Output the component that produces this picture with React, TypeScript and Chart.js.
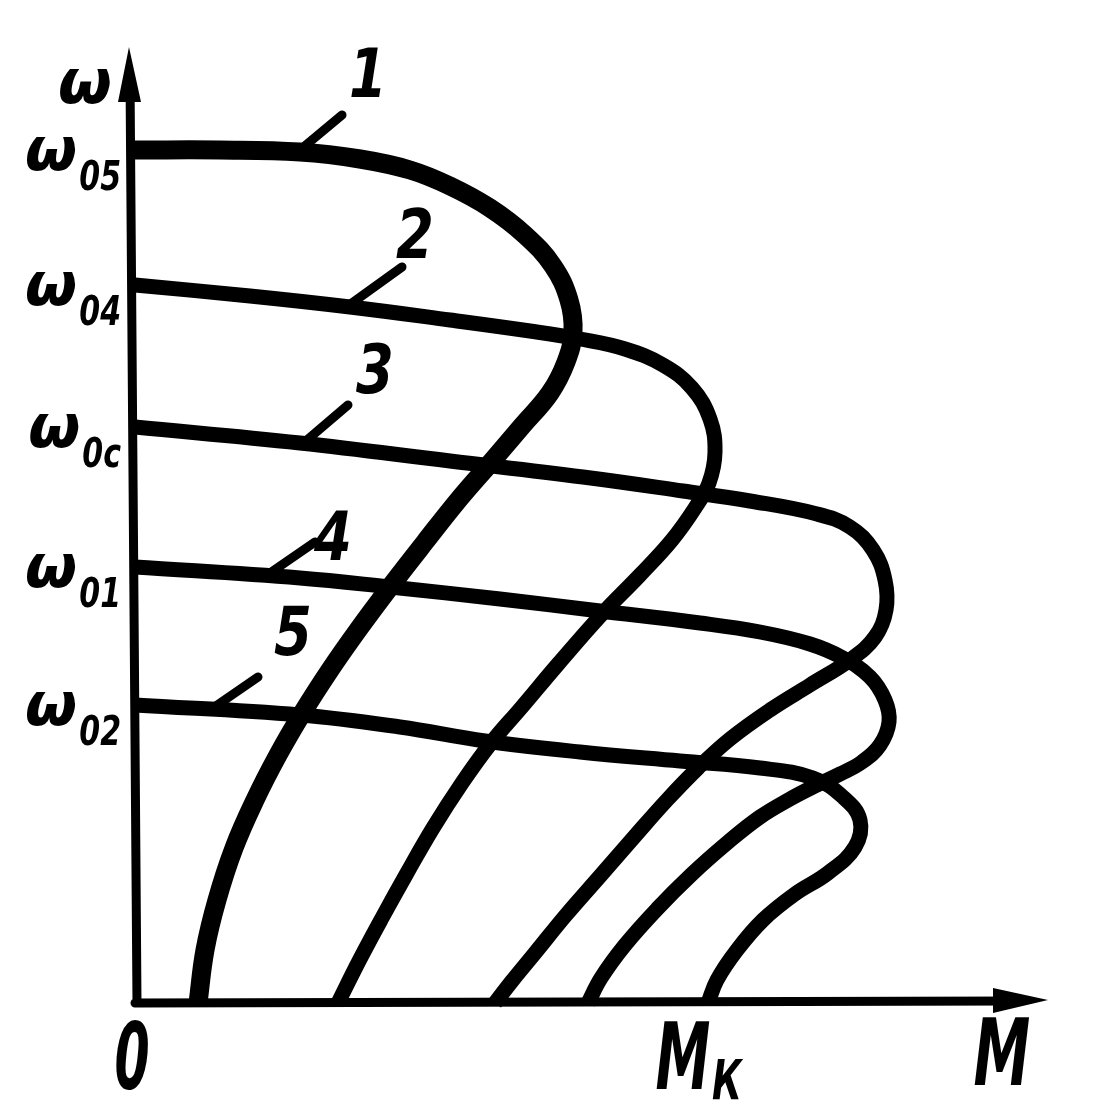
import React, { useEffect, useRef } from "react";
import { Chart, registerables } from "chart.js";

Chart.register(...registerables);

// Torque M (x) and speed ω (y), arbitrary units
const curve1M = [0, 0.85, 1.65, 2.25, 2.75, 3.15, 3.55, 3.9, 4.18, 4.34, 4.38, 4.31, 4.15, 3.87, 3.58, 3.25, 2.9, 2.55, 2.23, 1.95, 1.68, 1.43, 1.2, 0.99, 0.82, 0.7, 0.63];
const curve1W = [8.53, 8.53, 8.51, 8.44, 8.33, 8.17, 7.95, 7.68, 7.37, 7.03, 6.71, 6.41, 6.1, 5.77, 5.43, 5.05, 4.61, 4.16, 3.73, 3.33, 2.91, 2.48, 2.03, 1.55, 1.03, 0.53, 0];
const curve2M = [0, 1.15, 2.15, 3.15, 3.95, 4.45, 4.9, 5.28, 5.57, 5.75, 5.8, 5.74, 5.6, 5.37, 5.05, 4.68, 4.24, 3.86, 3.56, 3.27, 2.98, 2.72, 2.47, 2.24, 2.03];
const curve2W = [7.18, 7.07, 6.96, 6.83, 6.72, 6.64, 6.54, 6.38, 6.15, 5.84, 5.51, 5.2, 4.95, 4.63, 4.28, 3.9, 3.4, 2.95, 2.6, 2.2, 1.75, 1.3, 0.85, 0.42, 0];
const curve3M = [0, 1.65, 3.15, 4.48, 5.48, 6.15, 6.82, 7.15, 7.38, 7.5, 7.51, 7.4, 7.15, 6.75, 6.35, 5.95, 5.63, 5.32, 5.0, 4.66, 4.31, 4.0, 3.77, 3.6];
const curve3W = [5.76, 5.6, 5.42, 5.26, 5.12, 5.02, 4.89, 4.76, 4.53, 4.23, 3.93, 3.66, 3.43, 3.18, 2.93, 2.64, 2.35, 2.03, 1.67, 1.28, 0.88, 0.5, 0.22, 0];
const curve4M = [0, 1.65, 2.55, 3.65, 4.65, 5.65, 6.25, 6.75, 7.08, 7.35, 7.5, 7.54, 7.45, 7.27, 7.05, 6.82, 6.55, 6.25, 5.92, 5.57, 5.22, 4.9, 4.66, 4.53];
const curve4W = [4.36, 4.25, 4.16, 4.04, 3.92, 3.8, 3.71, 3.59, 3.45, 3.26, 3.03, 2.81, 2.58, 2.41, 2.29, 2.18, 2.04, 1.86, 1.6, 1.29, 0.94, 0.58, 0.25, 0];
const curve5M = [0, 1.65, 2.65, 3.5, 4.45, 5.45, 6.25, 6.78, 7.08, 7.25, 7.2, 6.93, 6.6, 6.28, 6.02, 5.82, 5.73];
const curve5W = [2.98, 2.88, 2.76, 2.62, 2.51, 2.42, 2.35, 2.25, 2.06, 1.83, 1.56, 1.3, 1.09, 0.83, 0.53, 0.23, 0];

// y-axis tick values (ω0 of each curve) and their subscripts
const yTickValues = [8.53, 7.18, 5.76, 4.36, 2.98];
const yTickSubs = ["05", "04", "0c", "01", "02"];
// x-axis ticks
const xTickValues = [0, 5.7];
const xTickMain = ["0", "M"];
const xTickSubs = ["", "К"];

// curve numbers and leader lines
const curveNames = ["1", "2", "3", "4", "5"];
const nameM = [2.33, 2.8, 2.4, 1.98, 1.58];
const nameW = [9.31, 7.7, 6.35, 4.68, 3.73];
const leaderStartM = [1.65, 2.17, 1.72, 1.35, 0.78];
const leaderStartW = [8.53, 7.0, 5.63, 4.3, 2.95];
const leaderEndM = [2.07, 2.67, 2.13, 1.8, 1.23];
const leaderEndW = [8.88, 7.36, 5.98, 4.61, 3.26];

const xMax = 9.2;
const yMax = 9.6;
const xArrowTip = 9.13;
const yArrowTip = 9.56;

const toPts = (m: number[], w: number[]) => m.map((v, i) => ({ x: v, y: w[i] }));

const FONT = '"DejaVu Sans", sans-serif';

const drawPlugin = {
  id: "drawing",
  beforeDatasetsDraw(chart: any) {
    const ctx = chart.ctx;
    const xs = chart.scales.x;
    const ys = chart.scales.y;
    const ox = xs.getPixelForValue(0);
    const oy = ys.getPixelForValue(0);
    ctx.save();
    ctx.fillStyle = "#fff";
    ctx.fillRect(0, 0, chart.width, chart.height);
    ctx.strokeStyle = "#000";
    ctx.fillStyle = "#000";
    ctx.lineWidth = 9;
    ctx.lineCap = "round";
    // axes
    const xt = xs.getPixelForValue(xArrowTip);
    const yt = ys.getPixelForValue(yArrowTip);
    ctx.beginPath();
    ctx.moveTo(ox + 2, oy);
    ctx.lineTo(ox - 5, yt + 30);
    ctx.moveTo(ox, oy);
    ctx.lineTo(xt - 30, oy - 2);
    ctx.stroke();
    // arrowheads
    ctx.beginPath();
    ctx.moveTo(ox - 6, yt);
    ctx.lineTo(ox + 6, yt + 55);
    ctx.lineTo(ox - 17, yt + 55);
    ctx.closePath();
    ctx.fill();
    ctx.beginPath();
    ctx.moveTo(xt, oy - 3);
    ctx.lineTo(xt - 55, oy - 15);
    ctx.lineTo(xt - 55, oy + 10);
    ctx.closePath();
    ctx.fill();
    ctx.restore();
  },
  afterDatasetsDraw(chart: any) {
    const ctx = chart.ctx;
    const xs = chart.scales.x;
    const ys = chart.scales.y;
    const ox = xs.getPixelForValue(0);
    const oy = ys.getPixelForValue(0);
    ctx.save();
    ctx.fillStyle = "#000";
    const txt = (s: string, x: number, y: number, size: number, sx: number, align: string) => {
      ctx.save();
      ctx.translate(x, y);
      ctx.scale(sx, 1);
      ctx.font = `italic bold ${size}px ${FONT}`;
      ctx.textAlign = align;
      ctx.textBaseline = "alphabetic";
      ctx.fillText(s, 0, 0);
      ctx.restore();
    };
    // axis name ω
    txt("ω", ox - 50, ys.getPixelForValue(yArrowTip) + 56, 62, 1, "center");
    // y ticks
    yTickValues.forEach((v, i) => {
      const py = ys.getPixelForValue(v);
      const right = ox - 14;
      ctx.font = `italic bold 40px ${FONT}`;
      const subW = ctx.measureText(yTickSubs[i]).width * 0.75;
      txt(yTickSubs[i], right, py + 40, 40, 0.75, "right");
      txt("ω", right - subW - 2, py + 20, 60, 1, "right");
    });
    // x ticks
    xTickValues.forEach((v, i) => {
      const px = xs.getPixelForValue(v);
      if (xTickSubs[i]) {
        txt(xTickMain[i], px - 22, oy + 86, 92, 0.6, "center");
        txt(xTickSubs[i], px + 22, oy + 96, 56, 0.65, "center");
      } else {
        txt(xTickMain[i], px - 3, oy + 86, 92, 0.55, "center");
      }
    });
    // axis name M
    txt("M", xs.getPixelForValue(8.67), oy + 82, 92, 0.62, "center");
    // curve numbers
    curveNames.forEach((n, i) => {
      txt(n, xs.getPixelForValue(nameM[i]), ys.getPixelForValue(nameW[i]) + 25, 68, 0.8, "center");
    });
    ctx.restore();
  },
};

export default function App() {
  const ref = useRef<HTMLCanvasElement | null>(null);
  useEffect(() => {
    document.body.style.margin = "0";
    const curves = [
      toPts(curve1M, curve1W),
      toPts(curve2M, curve2W),
      toPts(curve3M, curve3W),
      toPts(curve4M, curve4W),
      toPts(curve5M, curve5W),
    ];
    const datasets: any[] = curves.map((d, i) => ({
      label: curveNames[i],
      data: d,
      showLine: true,
      borderColor: "#000",
      borderWidth: i === 0 ? 19 : 15,
      pointRadius: 0,
      tension: 0.4,
      fill: false,
      clip: false,
      borderJoinStyle: "round",
    }));
    curveNames.forEach((n, i) => {
      datasets.push({
        label: "leader " + n,
        data: [
          { x: leaderStartM[i], y: leaderStartW[i] },
          { x: leaderEndM[i], y: leaderEndW[i] },
        ],
        showLine: true,
        borderColor: "#000",
        borderWidth: 9,
        borderCapStyle: "round",
        pointRadius: 0,
        tension: 0,
        clip: false,
      });
    });
    const chart = new Chart(ref.current!, {
      type: "scatter",
      data: { datasets },
      options: {
        animation: false,
        responsive: false,
        layout: { padding: { left: 135, right: 1110 - 135 - xMax * 100, top: 1003 - yMax * 100, bottom: 117 } },
        plugins: { legend: { display: false }, tooltip: { enabled: false } },
        scales: {
          x: { type: "linear", min: 0, max: xMax, display: false },
          y: { type: "linear", min: 0, max: yMax, display: false },
        },
      },
      plugins: [drawPlugin],
    } as any);
    return () => chart.destroy();
  }, []);
  return <canvas ref={ref} width={1110} height={1120} style={{ display: "block" }} />;
}
